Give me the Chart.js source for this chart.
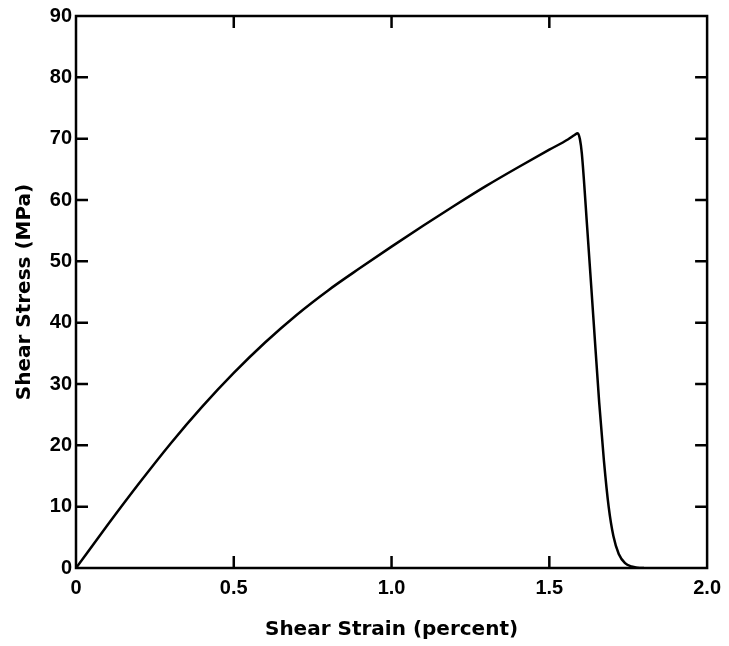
<!DOCTYPE html>
<html>
<head>
<meta charset="utf-8">
<script src="https://cdn.jsdelivr.net/npm/chart.js@4"></script>
<style>
html, body { margin: 0; padding: 0; background: #fff; }
#wrap { width: 729px; height: 646px; }
</style>
</head>
<body>
<div id="wrap"><canvas id="chartShear" width="729" height="646"></canvas></div>
<script>
// shear test curve: loading branch then failure drop
const strain = [0, 0.1, 0.2, 0.3, 0.4, 0.5, 0.6, 0.7, 0.8, 0.9, 1.0, 1.1, 1.2, 1.3, 1.4, 1.5, 1.56, 1.58, 1.59,
  1.597, 1.603, 1.62, 1.64, 1.658, 1.673, 1.688, 1.703, 1.72, 1.74, 1.76, 1.78, 1.80];
const stress = [0, 7.0, 13.8, 20.3, 26.3, 31.8, 36.8, 41.3, 45.3, 48.9, 52.4, 55.8, 59.1, 62.3, 65.3, 68.2, 69.9, 70.6, 70.9,
  69.9, 67.6, 55.5, 40.5, 27.0, 17.5, 10.0, 5.2, 2.3, 0.8, 0.25, 0.05, 0];

const xTicks = [0, 0.5, 1.0, 1.5, 2.0];
const yTicks = [0, 10, 20, 30, 40, 50, 60, 70, 80, 90];

const tickFont = { family: 'Liberation Sans', size: 20, weight: 'bold' };
const titleFont = { family: 'DejaVu Sans', size: 20, weight: 'bold' };

// box + inward ticks on all four sides
const frame = {
  id: 'frame',
  afterDraw(chart) {
    const { ctx, chartArea: a, scales: { x, y } } = chart;
    const len = 12;
    ctx.save();
    ctx.strokeStyle = '#000';
    ctx.lineWidth = 2.5;
    ctx.strokeRect(a.left, a.top, a.right - a.left, a.bottom - a.top);
    ctx.beginPath();
    xTicks.slice(1, -1).forEach(v => {
      const px = x.getPixelForValue(v);
      ctx.moveTo(px, a.bottom); ctx.lineTo(px, a.bottom - len);
      ctx.moveTo(px, a.top); ctx.lineTo(px, a.top + len);
    });
    yTicks.slice(1, -1).forEach(v => {
      const py = y.getPixelForValue(v);
      ctx.moveTo(a.left, py); ctx.lineTo(a.left + len, py);
      ctx.moveTo(a.right, py); ctx.lineTo(a.right - len, py);
    });
    ctx.stroke();
    ctx.restore();
  }
};

new Chart(document.getElementById('chartShear').getContext('2d'), {
  type: 'line',
  data: {
    datasets: [{
      data: strain.map((s, i) => ({ x: s, y: stress[i] })),
      borderColor: '#000',
      borderWidth: 2.5,
      pointRadius: 0,
      cubicInterpolationMode: 'monotone',
      fill: false
    }]
  },
  options: {
    responsive: false,
    animation: false,
    layout: { padding: { top: 16, right: 18, left: 0, bottom: 0 } },
    plugins: { legend: { display: false }, tooltip: { enabled: false } },
    scales: {
      x: {
        type: 'linear',
        min: 0, max: 2,
        afterBuildTicks: s => { s.ticks = xTicks.map(v => ({ value: v })); },
        afterFit: s => { s.height = 78; },
        grid: { display: false, drawTicks: false },
        border: { display: false },
        ticks: {
          color: '#000',
          font: tickFont,
          padding: 8,
          callback: v => v === 0 ? '0' : v.toFixed(1)
        },
        title: {
          display: true,
          text: 'Shear Strain (percent)',
          color: '#000',
          font: titleFont,
          padding: { top: 14 }
        }
      },
      y: {
        min: 0, max: 90,
        afterBuildTicks: s => { s.ticks = yTicks.map(v => ({ value: v })); },
        afterFit: s => { s.width = 76; },
        grid: { display: false, drawTicks: false },
        border: { display: false },
        ticks: { color: '#000', font: tickFont, padding: 4 },
        title: {
          display: true,
          text: 'Shear Stress (MPa)',
          color: '#000',
          font: titleFont,
          padding: { top: 13, bottom: 0 }
        }
      }
    }
  },
  plugins: [frame]
});
</script>
</body>
</html>
